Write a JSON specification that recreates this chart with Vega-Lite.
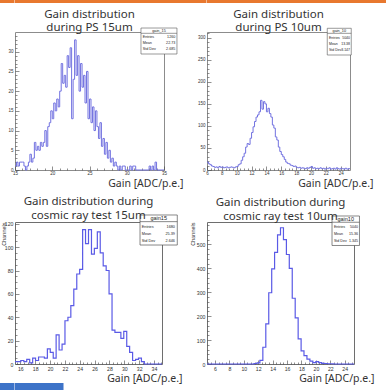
{
  "$schema": "https://vega.github.io/schema/vega-lite/v6.json",
  "padding": 0,
  "autosize": {"type": "pad"},
  "background": "white",
  "config": {
    "view": {"stroke": null},
    "axis": {"domain": false, "grid": false, "labelFont": "Liberation Sans", "labelColor": "#333", "tickColor": "#444", "tickWidth": 0.6, "labelFlush": false, "labelOverlap": false, "titleFont": "Noto Sans", "titleFontWeight": "normal", "titleColor": "#333", "titleFontSize": 10.5},
    "axisX": {"titleAlign": "right", "titleBaseline": "middle", "labelBaseline": "middle"},
    "axisY": {"labelAlign": "right", "labelBaseline": "middle"},
    "title": {"font": "Noto Sans", "fontSize": 11.5, "fontWeight": "normal", "color": "#333", "lineHeight": 13.5, "anchor": "middle", "frame": "group"},
    "text": {"font": "Liberation Sans", "color": "#222"}
  },
  "datasets": {
    "tl": [{"x":15,"n":1},{"x":15.2,"n":2},{"x":15.4,"n":1},{"x":15.6,"n":2},{"x":15.8,"n":2},{"x":16,"n":2},{"x":16.2,"n":1},{"x":16.4,"n":0},{"x":16.6,"n":1},{"x":16.8,"n":2},{"x":17,"n":4},{"x":17.2,"n":2},{"x":17.4,"n":3},{"x":17.6,"n":7},{"x":17.8,"n":5},{"x":18,"n":6},{"x":18.2,"n":5},{"x":18.4,"n":7},{"x":18.6,"n":6},{"x":18.8,"n":7},{"x":19,"n":10},{"x":19.2,"n":6},{"x":19.4,"n":11},{"x":19.6,"n":12},{"x":19.8,"n":15},{"x":20,"n":13},{"x":20.2,"n":17},{"x":20.4,"n":15},{"x":20.6,"n":18},{"x":20.8,"n":16},{"x":21,"n":20},{"x":21.2,"n":27},{"x":21.4,"n":22},{"x":21.6,"n":24},{"x":21.8,"n":21},{"x":22,"n":29},{"x":22.2,"n":26},{"x":22.4,"n":31},{"x":22.6,"n":13},{"x":22.8,"n":23},{"x":23,"n":33},{"x":23.2,"n":24},{"x":23.4,"n":29},{"x":23.6,"n":20},{"x":23.8,"n":27},{"x":24,"n":21},{"x":24.2,"n":24},{"x":24.4,"n":17},{"x":24.6,"n":25},{"x":24.8,"n":13},{"x":25,"n":18},{"x":25.2,"n":12},{"x":25.4,"n":16},{"x":25.6,"n":10},{"x":25.8,"n":15},{"x":26,"n":11},{"x":26.2,"n":8},{"x":26.4,"n":12},{"x":26.6,"n":6},{"x":26.8,"n":8},{"x":27,"n":4},{"x":27.2,"n":7},{"x":27.4,"n":3},{"x":27.6,"n":5},{"x":27.8,"n":2},{"x":28,"n":3},{"x":28.2,"n":1},{"x":28.4,"n":2},{"x":28.6,"n":1},{"x":28.8,"n":0},{"x":29,"n":1},{"x":29.2,"n":0},{"x":29.4,"n":1},{"x":29.6,"n":1},{"x":29.8,"n":0},{"x":30,"n":0},{"x":30.2,"n":0},{"x":30.4,"n":1},{"x":30.6,"n":0},{"x":30.8,"n":1},{"x":31,"n":1},{"x":31.2,"n":0},{"x":33,"n":1},{"x":33.2,"n":0},{"x":33.4,"n":1},{"x":33.6,"n":0},{"x":33.8,"n":2},{"x":34,"n":0},{"x":35,"n":0}],
    "tr": [{"x":6,"n":18},{"x":6.2,"n":14},{"x":6.4,"n":12},{"x":6.6,"n":9},{"x":6.8,"n":8},{"x":7,"n":6},{"x":7.2,"n":7},{"x":7.4,"n":5},{"x":7.6,"n":8},{"x":7.8,"n":6},{"x":8,"n":7},{"x":8.2,"n":5},{"x":8.4,"n":6},{"x":8.6,"n":7},{"x":8.8,"n":5},{"x":9,"n":6},{"x":9.2,"n":7},{"x":9.4,"n":6},{"x":9.6,"n":5},{"x":9.8,"n":7},{"x":10,"n":8},{"x":10.2,"n":12},{"x":10.4,"n":14},{"x":10.6,"n":22},{"x":10.8,"n":30},{"x":11,"n":38},{"x":11.2,"n":52},{"x":11.4,"n":60},{"x":11.6,"n":58},{"x":11.8,"n":72},{"x":12,"n":85},{"x":12.2,"n":98},{"x":12.4,"n":110},{"x":12.6,"n":120},{"x":12.8,"n":125},{"x":13,"n":132},{"x":13.2,"n":158},{"x":13.4,"n":138},{"x":13.6,"n":155},{"x":13.8,"n":150},{"x":14,"n":132},{"x":14.2,"n":140},{"x":14.4,"n":128},{"x":14.6,"n":120},{"x":14.8,"n":102},{"x":15,"n":95},{"x":15.2,"n":75},{"x":15.4,"n":68},{"x":15.6,"n":52},{"x":15.8,"n":42},{"x":16,"n":35},{"x":16.2,"n":30},{"x":16.4,"n":24},{"x":16.6,"n":18},{"x":16.8,"n":15},{"x":17,"n":14},{"x":17.2,"n":11},{"x":17.4,"n":10},{"x":17.6,"n":8},{"x":17.8,"n":9},{"x":18,"n":6},{"x":18.2,"n":5},{"x":18.4,"n":6},{"x":18.6,"n":4},{"x":18.8,"n":5},{"x":19,"n":4},{"x":19.2,"n":3},{"x":19.4,"n":5},{"x":19.6,"n":4},{"x":19.8,"n":6},{"x":20,"n":8},{"x":20.2,"n":4},{"x":20.4,"n":5},{"x":20.6,"n":3},{"x":20.8,"n":4},{"x":21,"n":3},{"x":21.2,"n":5},{"x":21.4,"n":3},{"x":21.6,"n":4},{"x":21.8,"n":2},{"x":22,"n":4},{"x":22.2,"n":3},{"x":22.4,"n":5},{"x":22.6,"n":2},{"x":22.8,"n":3},{"x":23,"n":4},{"x":23.2,"n":2},{"x":23.4,"n":5},{"x":23.6,"n":3},{"x":23.8,"n":2},{"x":24,"n":4},{"x":24.2,"n":3},{"x":24.4,"n":2},{"x":24.6,"n":4},{"x":24.8,"n":2},{"x":25,"n":3},{"x":25.25,"n":3}],
    "bl": [{"x":15.28,"n":2},{"x":15.68,"n":2},{"x":16.07,"n":3},{"x":16.47,"n":2},{"x":16.86,"n":4},{"x":17.26,"n":1},{"x":17.66,"n":5},{"x":18.05,"n":3},{"x":18.45,"n":6},{"x":18.84,"n":6},{"x":19.24,"n":5},{"x":19.64,"n":13},{"x":20.03,"n":10},{"x":20.43,"n":5},{"x":20.82,"n":25},{"x":21.22,"n":12},{"x":21.62,"n":17},{"x":22.01,"n":37},{"x":22.41,"n":40},{"x":22.8,"n":50},{"x":23.2,"n":64},{"x":23.6,"n":77},{"x":23.99,"n":81},{"x":24.39,"n":115},{"x":24.78,"n":103},{"x":25.18,"n":115},{"x":25.58,"n":94},{"x":25.97,"n":99},{"x":26.37,"n":113},{"x":26.76,"n":95},{"x":27.16,"n":84},{"x":27.56,"n":80},{"x":27.95,"n":60},{"x":28.35,"n":29},{"x":28.74,"n":27},{"x":29.14,"n":27},{"x":29.54,"n":22},{"x":29.93,"n":28},{"x":30.33,"n":15},{"x":30.72,"n":10},{"x":31.12,"n":3},{"x":31.52,"n":4},{"x":31.91,"n":5},{"x":32.31,"n":2},{"x":32.7,"n":0},{"x":33.1,"n":0},{"x":33.5,"n":0},{"x":33.89,"n":0},{"x":34.29,"n":0},{"x":34.68,"n":0},{"x":35.08,"n":0}],
    "br": [{"x":4.89,"n":0},{"x":5.3,"n":0},{"x":5.71,"n":0},{"x":6.11,"n":0},{"x":6.52,"n":0},{"x":6.93,"n":0},{"x":7.34,"n":0},{"x":7.75,"n":0},{"x":8.15,"n":0},{"x":8.56,"n":0},{"x":8.97,"n":0},{"x":9.38,"n":0},{"x":9.79,"n":0},{"x":10.19,"n":0},{"x":10.6,"n":0},{"x":11.01,"n":0},{"x":11.42,"n":2},{"x":11.83,"n":5},{"x":12.23,"n":15},{"x":12.64,"n":70},{"x":13.05,"n":168},{"x":13.46,"n":298},{"x":13.87,"n":398},{"x":14.27,"n":467},{"x":14.68,"n":540},{"x":15.09,"n":570},{"x":15.5,"n":520},{"x":15.91,"n":458},{"x":16.31,"n":400},{"x":16.72,"n":275},{"x":17.13,"n":193},{"x":17.54,"n":105},{"x":17.95,"n":55},{"x":18.35,"n":35},{"x":18.76,"n":20},{"x":19.17,"n":12},{"x":19.58,"n":6},{"x":19.99,"n":10},{"x":20.39,"n":6},{"x":20.8,"n":3},{"x":21.21,"n":2},{"x":21.62,"n":1},{"x":22.03,"n":1},{"x":22.43,"n":0},{"x":22.84,"n":0},{"x":23.25,"n":0},{"x":23.66,"n":0},{"x":24.07,"n":0},{"x":24.47,"n":0},{"x":24.88,"n":0},{"x":25.29,"n":0}]
  },
  "columns": 5,
  "spacing": 0,
  "bounds": "flush",
  "concat": [
    {"width": 14.5, "height": 3, "view": {"fill": "#e8782f", "stroke": null}, "data": {"values": []}, "mark": "point", "encoding": {}},
    {"width": 149, "height": 3, "view": {"fill": "#e8782f", "stroke": null}, "data": {"values": []}, "mark": "point", "encoding": {}},
    {"width": 42.5, "height": 3, "view": {"fill": "#e8782f", "stroke": null}, "data": {"values": []}, "mark": "point", "encoding": {}},
    {"width": 147, "height": 3, "view": {"fill": "#e8782f", "stroke": null}, "data": {"values": []}, "mark": "point", "encoding": {}},
    {"width": 33, "height": 3, "view": {"fill": "#e8782f", "stroke": null}, "data": {"values": []}, "mark": "point", "encoding": {}},

    {"width": 1, "height": 29, "data": {"values": []}, "mark": "point", "encoding": {}},
    {"width": 1, "height": 1, "data": {"values": []}, "mark": "point", "encoding": {}},
    {"width": 1, "height": 1, "data": {"values": []}, "mark": "point", "encoding": {}},
    {"width": 1, "height": 1, "data": {"values": []}, "mark": "point", "encoding": {}},
    {"width": 1, "height": 1, "data": {"values": []}, "mark": "point", "encoding": {}},

    {"width": 1, "height": 1, "data": {"values": []}, "mark": "point", "encoding": {}},
    {
      "width": 149, "height": 138,
      "view": {"stroke": "#8c8c8c", "strokeWidth": 1},
      "title": {"text": ["Gain distribution", "during PS 15um"], "offset": -6},
      "resolve": {"axis": {"x": "independent", "y": "independent"}},
      "layer": [
        {"data": {"name": "tl"},
         "mark": {"type": "line", "interpolate": "step-after", "color": "#7272e0", "strokeWidth": 1},
         "encoding": {
           "x": {"field": "x", "type": "quantitative", "scale": {"domain": [15, 35], "nice": false, "zero": false},
                 "axis": {"orient": "bottom", "title": "Gain [ADC/p.e.]", "titleX": 168, "titleY": 13, "values": [15,20,25,30,35], "tickSize": -4, "labelPadding": 7.5, "labelFontSize": 4.5}},
           "y": {"field": "n", "type": "quantitative", "scale": {"domain": [0, 35], "nice": false},
                 "axis": {"orient": "left", "title": null, "values": [0,5,10,15,20,25,30], "tickSize": -4, "labelPadding": 6, "labelFontSize": 4.5}}
         }},
        {"data": {"values": [{}]}, "mark": {"type": "rect", "fill": "white", "stroke": "#555", "strokeWidth": 0.6},
         "encoding": {"x": {"datum": 31.91, "axis": {"orient": "bottom", "title": null, "labels": false, "tickSize": -2, "values": [16,17,18,19,21,22,23,24,26,27,28,29,31,32,33,34]}}, "x2": {"datum": 36.74},
                      "y": {"datum": 36.01, "axis": {"orient": "left", "title": null, "labels": false, "tickSize": -2, "values": [1,2,3,4,6,7,8,9,11,12,13,14,16,17,18,19,21,22,23,24,26,27,28,29,31,32,33,34]}}, "y2": {"datum": 29.42}}},
        {"data": {"values": [{}]}, "mark": {"type": "rule", "stroke": "#555", "strokeWidth": 0.6},
         "encoding": {"x": {"datum": 31.91, "axis": null}, "x2": {"datum": 36.74}, "y": {"datum": 34.67, "axis": null}}},
        {"data": {"values": [{}]}, "mark": {"type": "text", "text": "gain_15", "fontSize": 3.8, "align": "center", "baseline": "middle"},
         "encoding": {"x": {"datum": 34.33, "axis": null}, "y": {"datum": 35.3, "axis": null}}},
        {"data": {"values": [{}]}, "mark": {"type": "text", "text": ["Entries", "Mean", "Std Dev"], "fontSize": 3.7, "lineHeight": 5.8, "align": "left", "baseline": "top"},
         "encoding": {"x": {"datum": 32.14, "axis": null}, "y": {"datum": 34.14, "axis": null}}},
        {"data": {"values": [{}]}, "mark": {"type": "text", "text": ["1260", "22.73", "2.685"], "fontSize": 3.7, "lineHeight": 5.8, "align": "right", "baseline": "top"},
         "encoding": {"x": {"datum": 36.52, "axis": null}, "y": {"datum": 34.14, "axis": null}}}
      ]
    },
    {"width": 1, "height": 1, "data": {"values": []}, "mark": "point", "encoding": {}},
    {
      "width": 143, "height": 138,
      "view": {"stroke": "#8c8c8c", "strokeWidth": 1},
      "title": {"text": ["Gain distribution", "during PS 10um"], "offset": -6},
      "resolve": {"axis": {"x": "independent", "y": "independent"}},
      "layer": [
        {"data": {"name": "tr"},
         "mark": {"type": "line", "interpolate": "step-after", "color": "#7272e0", "strokeWidth": 1},
         "encoding": {
           "x": {"field": "x", "type": "quantitative", "scale": {"domain": [6, 25.25], "nice": false, "zero": false},
                 "axis": {"orient": "bottom", "title": "Gain [ADC/p.e.]", "titleX": 166, "titleY": 13, "values": [6,8,10,12,14,16,18,20,22,24], "tickSize": -4, "labelPadding": 7.5, "labelFontSize": 4.5}},
           "y": {"field": "n", "type": "quantitative", "scale": {"domain": [0, 313], "nice": false},
                 "axis": {"orient": "left", "title": null, "values": [0,50,100,150,200,250,300], "tickSize": -4, "labelPadding": 6, "labelFontSize": 4.5}}
         }},
        {"data": {"values": [{}]}, "mark": {"type": "rect", "fill": "white", "stroke": "#555", "strokeWidth": 0.6},
         "encoding": {"x": {"datum": 22.19, "axis": {"orient": "bottom", "title": null, "labels": false, "tickSize": -2, "values": [6.5,7,7.5,8.5,9,9.5,10.5,11,11.5,12.5,13,13.5,14.5,15,15.5,16.5,17,17.5,18.5,19,19.5,20.5,21,21.5,22.5,23,23.5,24.5,25]}}, "x2": {"datum": 25.42},
                      "y": {"datum": 321.4, "axis": {"orient": "left", "title": null, "labels": false, "tickSize": -2, "values": [10,20,30,40,60,70,80,90,110,120,130,140,160,170,180,190,210,220,230,240,260,270,280,290,310]}}, "y2": {"datum": 260.8}}},
        {"data": {"values": [{}]}, "mark": {"type": "rule", "stroke": "#555", "strokeWidth": 0.6},
         "encoding": {"x": {"datum": 22.19, "axis": null}, "x2": {"datum": 25.42}, "y": {"datum": 310, "axis": null}}},
        {"data": {"values": [{}]}, "mark": {"type": "text", "text": "gain_10", "fontSize": 3.8, "align": "center", "baseline": "middle"},
         "encoding": {"x": {"datum": 23.81, "axis": null}, "y": {"datum": 315.7, "axis": null}}},
        {"data": {"values": [{}]}, "mark": {"type": "text", "text": ["Entries", "Mean", "Std Dev"], "fontSize": 3.5, "lineHeight": 6.1, "align": "left", "baseline": "top"},
         "encoding": {"x": {"datum": 22.42, "axis": null}, "y": {"datum": 304.4, "axis": null}}},
        {"data": {"values": [{}]}, "mark": {"type": "text", "text": ["5040", "13.38", "3.147"], "fontSize": 3.5, "lineHeight": 6.1, "align": "right", "baseline": "top"},
         "encoding": {"x": {"datum": 25.25, "axis": null}, "y": {"datum": 304.4, "axis": null}}}
      ]
    },
    {"width": 1, "height": 1, "data": {"values": []}, "mark": "point", "encoding": {}},

    {"width": 1, "height": 52, "data": {"values": []}, "mark": "point", "encoding": {}},
    {"width": 1, "height": 1, "data": {"values": []}, "mark": "point", "encoding": {}},
    {"width": 1, "height": 1, "data": {"values": []}, "mark": "point", "encoding": {}},
    {"width": 1, "height": 1, "data": {"values": []}, "mark": "point", "encoding": {}},
    {"width": 1, "height": 1, "data": {"values": []}, "mark": "point", "encoding": {}},

    {"width": 1, "height": 1, "data": {"values": []}, "mark": "point", "encoding": {}},
    {
      "width": 147, "height": 142,
      "view": {"stroke": "#6e6e6e", "strokeWidth": 1},
      "title": {"text": ["Gain distribution during", "cosmic ray test 15um"], "offset": -6.5},
      "resolve": {"axis": {"x": "independent", "y": "independent"}},
      "layer": [
        {"data": {"name": "bl"},
         "mark": {"type": "line", "interpolate": "step-after", "color": "#5a5ae6", "strokeWidth": 1.2},
         "encoding": {
           "x": {"field": "x", "type": "quantitative", "scale": {"domain": [15.28, 35.08], "nice": false, "zero": false},
                 "axis": {"orient": "bottom", "title": "Gain [ADC/p.e.]", "titleX": 167, "titleY": 14, "values": [16,18,20,22,24,26,28,30,32,34], "tickSize": -4, "labelPadding": 8, "labelFontSize": 5.2}},
           "y": {"field": "n", "type": "quantitative", "scale": {"domain": [0, 121.5], "nice": false},
                 "axis": {"orient": "left", "title": "Channels", "titleFontSize": 5.5, "titleFont": "Liberation Sans", "titleX": -12, "titleY": 0, "titleAlign": "right", "titleBaseline": "middle", "values": [0,20,40,60,80,100,120], "tickSize": -4, "labelPadding": 6, "labelFontSize": 5.2}}
         }},
        {"data": {"values": [{}]}, "mark": {"type": "rect", "fill": "white", "stroke": "#555", "strokeWidth": 0.7},
         "encoding": {"x": {"datum": 32.12, "axis": {"orient": "bottom", "title": null, "labels": false, "tickSize": -2, "values": [15.5,16.5,17,17.5,18.5,19,19.5,20.5,21,21.5,22.5,23,23.5,24.5,25,25.5,26.5,27,27.5,28.5,29,29.5,30.5,31,31.5,32.5,33,33.5,34.5,35]}}, "x2": {"datum": 37.14},
                      "y": {"datum": 127.5, "axis": {"orient": "left", "title": null, "labels": false, "tickSize": -2, "values": [5,10,15,25,30,35,45,50,55,65,70,75,85,90,95,105,110,115]}}, "y2": {"datum": 101.8}}},
        {"data": {"values": [{}]}, "mark": {"type": "rule", "stroke": "#555", "strokeWidth": 0.7},
         "encoding": {"x": {"datum": 32.12, "axis": null}, "x2": {"datum": 37.14}, "y": {"datum": 121.8, "axis": null}}},
        {"data": {"values": [{}]}, "mark": {"type": "text", "text": "gain15", "fontSize": 5.5, "align": "center", "baseline": "middle"},
         "encoding": {"x": {"datum": 34.64, "axis": null}, "y": {"datum": 124.7, "axis": null}}},
        {"data": {"values": [{}]}, "mark": {"type": "text", "text": ["Entries", "Mean", "Std Dev"], "fontSize": 3.8, "lineHeight": 6.7, "align": "left", "baseline": "top"},
         "encoding": {"x": {"datum": 32.35, "axis": null}, "y": {"datum": 118.6, "axis": null}}},
        {"data": {"values": [{}]}, "mark": {"type": "text", "text": ["1680", "25.39", "2.646"], "fontSize": 3.8, "lineHeight": 6.7, "align": "right", "baseline": "top"},
         "encoding": {"x": {"datum": 36.83, "axis": null}, "y": {"datum": 118.6, "axis": null}}}
      ]
    },
    {"width": 1, "height": 1, "data": {"values": []}, "mark": "point", "encoding": {}},
    {
      "width": 147, "height": 142,
      "view": {"stroke": "#6e6e6e", "strokeWidth": 1},
      "title": {"text": ["Gain distribution during", "cosmic ray test 10um"], "offset": -6.5},
      "resolve": {"axis": {"x": "independent", "y": "independent"}},
      "layer": [
        {"data": {"name": "br"},
         "mark": {"type": "line", "interpolate": "step-after", "color": "#5a5ae6", "strokeWidth": 1.2},
         "encoding": {
           "x": {"field": "x", "type": "quantitative", "scale": {"domain": [4.89, 25.29], "nice": false, "zero": false},
                 "axis": {"orient": "bottom", "title": "Gain [ADC/p.e.]", "titleX": 167, "titleY": 14, "values": [6,8,10,12,14,16,18,20,22,24], "tickSize": -4, "labelPadding": 8, "labelFontSize": 5.2}},
           "y": {"field": "n", "type": "quantitative", "scale": {"domain": [0, 594], "nice": false},
                 "axis": {"orient": "left", "title": "Channels", "titleFontSize": 5.5, "titleFont": "Liberation Sans", "titleX": -15, "titleY": 0, "titleAlign": "right", "titleBaseline": "middle", "values": [0,100,200,300,400,500], "tickSize": -4, "labelPadding": 6, "labelFontSize": 5.2}}
         }},
        {"data": {"values": [{}]}, "mark": {"type": "rect", "fill": "white", "stroke": "#555", "strokeWidth": 0.7},
         "encoding": {"x": {"datum": 22.24, "axis": {"orient": "bottom", "title": null, "labels": false, "tickSize": -2, "values": [5,5.5,6.5,7,7.5,8.5,9,9.5,10.5,11,11.5,12.5,13,13.5,14.5,15,15.5,16.5,17,17.5,18.5,19,19.5,20.5,21,21.5,22.5,23,23.5,24.5,25]}}, "x2": {"datum": 26.05},
                      "y": {"datum": 619.1, "axis": {"orient": "left", "title": null, "labels": false, "tickSize": -2, "values": [20,40,60,80,120,140,160,180,220,240,260,280,320,340,360,380,420,440,460,480,520,540,560,580]}}, "y2": {"datum": 495.7}}},
        {"data": {"values": [{}]}, "mark": {"type": "rule", "stroke": "#555", "strokeWidth": 0.7},
         "encoding": {"x": {"datum": 22.24, "axis": null}, "x2": {"datum": 26.05}, "y": {"datum": 593, "axis": null}}},
        {"data": {"values": [{}]}, "mark": {"type": "text", "text": "gain10", "fontSize": 5.5, "align": "center", "baseline": "middle"},
         "encoding": {"x": {"datum": 24.14, "axis": null}, "y": {"datum": 606.5, "axis": null}}},
        {"data": {"values": [{}]}, "mark": {"type": "text", "text": ["Entries", "Mean", "Std Dev"], "fontSize": 3.6, "lineHeight": 6.85, "align": "left", "baseline": "top"},
         "encoding": {"x": {"datum": 22.51, "axis": null}, "y": {"datum": 579.8, "axis": null}}},
        {"data": {"values": [{}]}, "mark": {"type": "text", "text": ["5040", "15.36", "1.345"], "fontSize": 3.6, "lineHeight": 6.85, "align": "right", "baseline": "top"},
         "encoding": {"x": {"datum": 25.84, "axis": null}, "y": {"datum": 579.8, "axis": null}}}
      ]
    },
    {"width": 1, "height": 1, "data": {"values": []}, "mark": "point", "encoding": {}},

    {"width": 1, "height": 19, "data": {"values": []}, "mark": "point", "encoding": {}},
    {"width": 1, "height": 1, "data": {"values": []}, "mark": "point", "encoding": {}},
    {"width": 1, "height": 1, "data": {"values": []}, "mark": "point", "encoding": {}},
    {"width": 1, "height": 1, "data": {"values": []}, "mark": "point", "encoding": {}},
    {"width": 1, "height": 1, "data": {"values": []}, "mark": "point", "encoding": {}},

    {"width": 14.5, "height": 7, "view": {"fill": "#3d73c8", "stroke": null}, "data": {"values": []}, "mark": "point", "encoding": {}},
    {"width": 48.5, "height": 7, "view": {"fill": "#3d73c8", "stroke": null}, "data": {"values": []}, "mark": "point", "encoding": {}}
  ]
}
